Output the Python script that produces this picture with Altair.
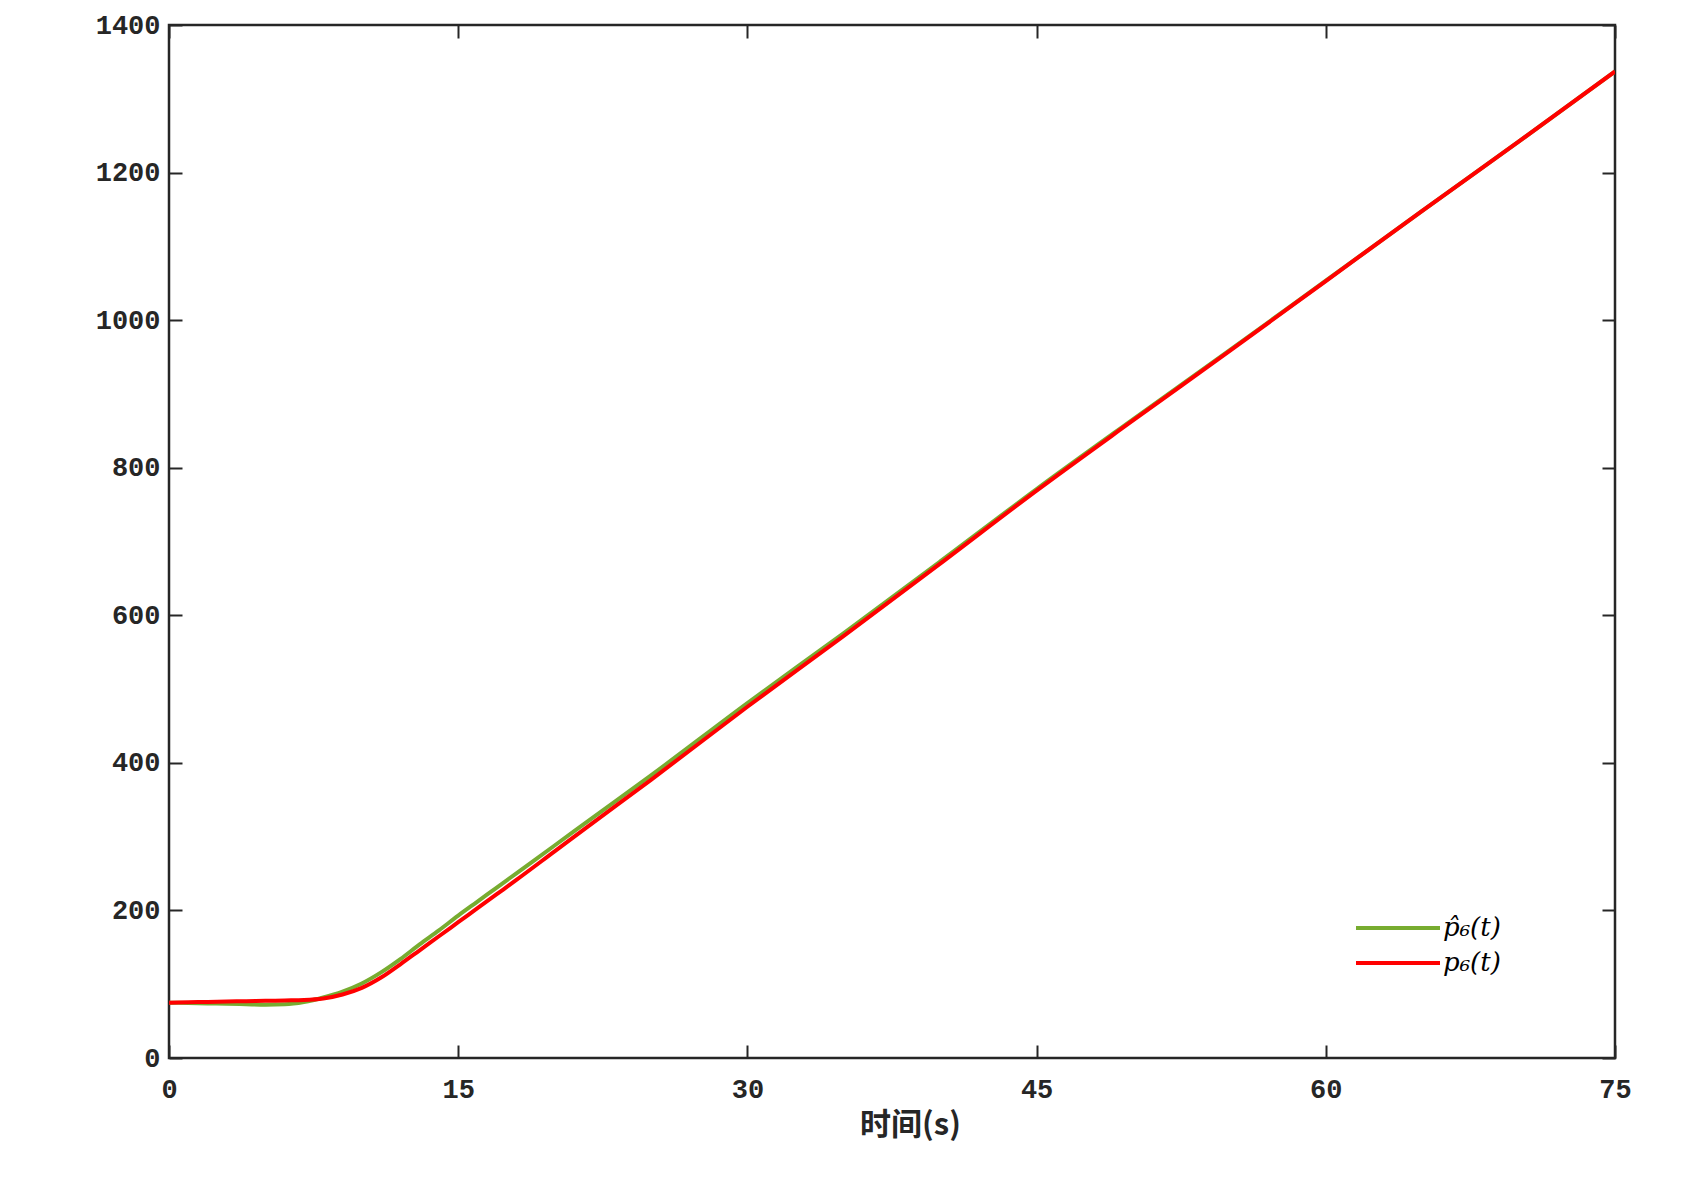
import altair as alt
import pandas as pd

# ---- data ----
t_hat = [0, 1, 2, 3, 4, 5, 6, 7, 8, 9, 10, 11, 12, 13, 14, 15, 16, 17, 18, 20, 22, 25, 30, 35, 40, 45, 50, 55, 60, 65, 70, 75]
p_hat = [75, 74.5, 74, 73.5, 72.8, 72.2, 72.8, 76, 82, 90, 101, 116, 134, 154, 173, 193, 212, 231, 250, 288, 326, 383, 481, 576, 673, 771, 865.5, 959, 1053.5, 1148, 1242, 1337]

t_p = [0, 1, 2, 3, 4, 5, 6, 7, 8, 9, 10, 11, 12, 13, 14, 15, 16, 17, 18, 20, 22, 25, 30, 35, 40, 45, 50, 55, 60, 65, 70, 75]
p_vals = [75, 75.5, 76, 76.5, 77, 77.5, 78, 78.5, 80.5, 86, 95, 109, 127, 146, 165, 184, 203, 222, 241, 280, 319, 377, 476, 572, 670, 769, 864, 958, 1053, 1148, 1242, 1337]

x_ticks = [0, 15, 30, 45, 60, 75]
y_ticks = [0, 200, 400, 600, 800, 1000, 1200, 1400]
series_names = ["p\u0302\u2086(t)", "p\u2086(t)"]
series_colors = ["#77AC30", "#FF0000"]
x_title = "时间(s)"

W, H = 1446, 1033
FRAME = "#262626"
TICK_FONT = "Liberation Mono"
TICK_SIZE = 27

df_hat = pd.DataFrame({"t": t_hat, "v": p_hat, "s": series_names[0]})
df_p = pd.DataFrame({"t": t_p, "v": p_vals, "s": series_names[1]})

xs = alt.Scale(domain=[0, 75], nice=False, zero=False)
ys = alt.Scale(domain=[0, 1400], nice=False)

legend = alt.Legend(
    orient="none", legendX=1212, legendY=886, padding=0,
    symbolType="M-2.8,0H2.8", symbolSize=900, symbolStrokeWidth=4,
    labelFont="DejaVu Serif", labelFontStyle="italic", labelFontSize=26,
    labelColor="#000000", labelOffset=28, rowPadding=5, title=None,
)
color = alt.Color("s:N", scale=alt.Scale(domain=series_names, range=series_colors), legend=legend)

# axis with labels and title (no ticks)
ax_lab_x = alt.Axis(values=x_ticks, ticks=False, domain=False, grid=False, format="d",
                    labelFlush=False,
                    labelFont=TICK_FONT, labelFontSize=TICK_SIZE, labelFontWeight="bold",
                    labelColor=FRAME, labelPadding=18,
                    title=x_title, titleFont="Noto Sans CJK SC", titleFontSize=31,
                    titleFontWeight="bold", titleColor=FRAME, titlePadding=8,
                    titleX=W / 2 + 18)
ax_lab_y = alt.Axis(values=y_ticks, ticks=False, domain=False, grid=False, format="d",
                    labelFlush=False,
                    labelFont=TICK_FONT, labelFontSize=TICK_SIZE, labelFontWeight="bold",
                    labelColor=FRAME, labelPadding=9, title="")

# inward ticks: bottom edge (top-oriented axis shifted down) / left edge
ax_in_x1 = alt.Axis(orient="top", offset=-H, values=x_ticks, labels=False, domain=False,
                    grid=False, tickSize=13, tickWidth=2, tickColor=FRAME, title="")
ax_in_y1 = alt.Axis(orient="right", offset=-W, values=y_ticks, labels=False, domain=False,
                    grid=False, tickSize=13, tickWidth=2, tickColor=FRAME, title="")
# inward ticks: top edge / right edge
ax_in_x2 = alt.Axis(orient="bottom", offset=-H, values=x_ticks, labels=False, domain=False,
                    grid=False, tickSize=13, tickWidth=2, tickColor=FRAME, title="")
ax_in_y2 = alt.Axis(orient="left", offset=-W, values=y_ticks, labels=False, domain=False,
                    grid=False, tickSize=13, tickWidth=2, tickColor=FRAME, title="")

green = alt.Chart(df_hat).mark_line(strokeWidth=4, clip=True, interpolate="monotone").encode(
    x=alt.X("t:Q", scale=xs, axis=ax_lab_x),
    y=alt.Y("v:Q", scale=ys, axis=ax_lab_y),
    color=color,
)
red = alt.Chart(df_p).mark_line(strokeWidth=4, clip=True, interpolate="monotone").encode(
    x=alt.X("t:Q", scale=xs, axis=ax_in_x1),
    y=alt.Y("v:Q", scale=ys, axis=ax_in_y1),
    color=color,
)
ghost = alt.Chart(df_p).mark_line(strokeWidth=0, strokeOpacity=0).encode(
    x=alt.X("t:Q", scale=xs, axis=ax_in_x2),
    y=alt.Y("v:Q", scale=ys, axis=ax_in_y2),
)

chart = alt.layer(green, red, ghost).resolve_axis(x="independent", y="independent").properties(
    width=W, height=H,
    autosize=alt.AutoSizeParams(type="none"),
    padding={"left": 161, "top": 17, "right": 60, "bottom": 100},
    background="#FFFFFF",
).configure_view(stroke=FRAME, strokeWidth=2.5)

chart.save("out.html", embed_options={"renderer": "svg", "actions": False})
